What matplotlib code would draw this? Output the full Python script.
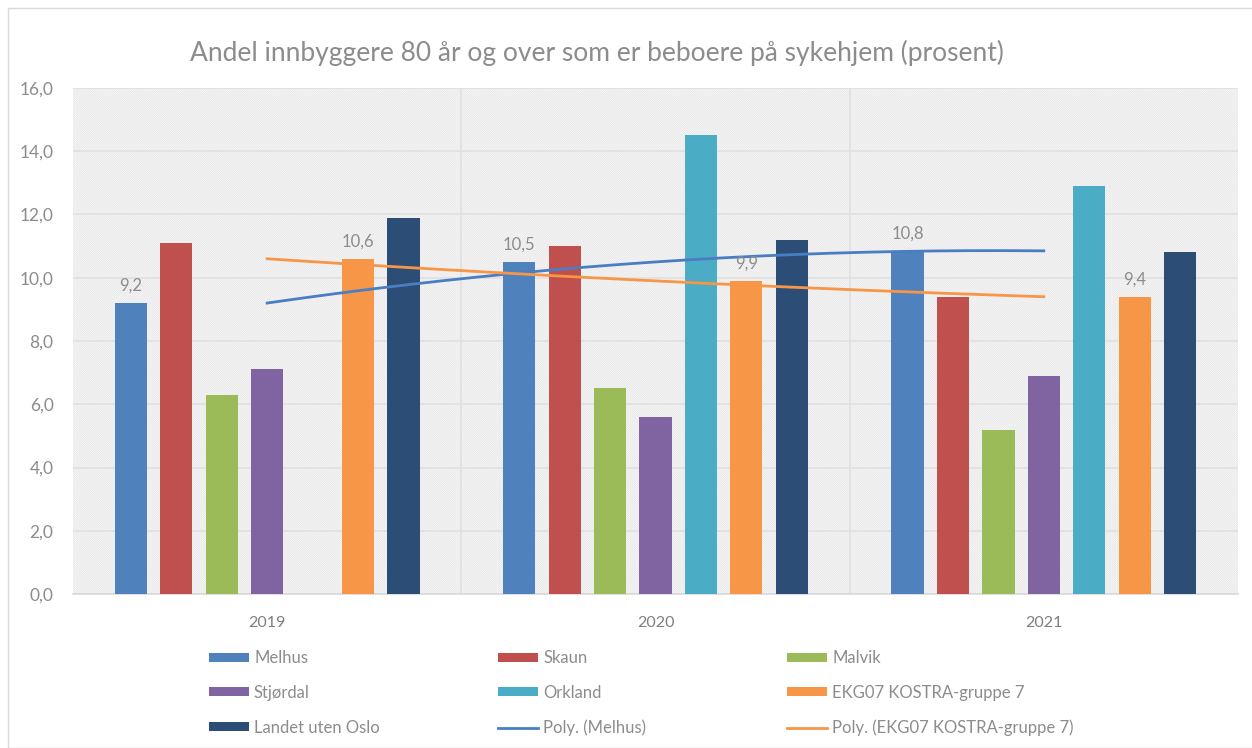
import numpy as np
import matplotlib.pyplot as plt
from matplotlib.patches import Rectangle, Patch
from matplotlib.lines import Line2D

plt.rcParams['font.family'] = ['Lato', 'DejaVu Sans']

years = ['2019', '2020', '2021']
series = ['Melhus', 'Skaun', 'Malvik', 'Stjørdal', 'Orkland',
          'EKG07 KOSTRA-gruppe 7', 'Landet uten Oslo']
values = {
    'Melhus': [9.2, 10.5, 10.85],
    'Skaun': [11.1, 11.0, 9.4],
    'Malvik': [6.3, 6.5, 5.2],
    'Stjørdal': [7.1, 5.6, 6.9],
    'Orkland': [np.nan, 14.5, 12.9],
    'EKG07 KOSTRA-gruppe 7': [10.6, 9.9, 9.4],
    'Landet uten Oslo': [11.9, 11.2, 10.8],
}
labels_melhus = ['9,2', '10,5', '10,8']
labels_ekg = ['10,6', '9,9', '9,4']
colors = ['#4F81BD', '#C0504D', '#9BBB59', '#8064A2', '#4BACC6', '#F79646', '#2C4D75']

txt = '#8c8c8c'
plt.rcParams['hatch.color'] = '#e6e6e6'
plt.rcParams['hatch.linewidth'] = 0.6

fig = plt.figure(figsize=(12.52, 7.48), dpi=100)
fig.patches.append(Rectangle((8 / 1252, 0), 1.0, 1 - 8 / 748, transform=fig.transFigure,
                             fill=False, edgecolor='#d9d9d9', lw=1))
ax = fig.add_axes([73 / 1252, 1 - 594 / 748, 1165 / 1252, 506 / 748])
ax.patch.set_facecolor('white')
ax.patch.set_hatch('\\' * 18)
ax.patch.set_edgecolor('#e6e6e6')

x = np.arange(len(years))
slot = 0.117
width = 0.083
for i, (name, c) in enumerate(zip(series, colors)):
    off = (i - 3) * slot
    ax.bar(x + off, values[name], width=width, color=c, zorder=3)

# data labels
for j in range(3):
    ax.text(x[j] - 3 * slot, values['Melhus'][j] + 0.3, labels_melhus[j],
            ha='center', va='bottom', color=txt, fontsize=12, zorder=5)
    ax.text(x[j] + 2 * slot, values['EKG07 KOSTRA-gruppe 7'][j] + 0.3, labels_ekg[j],
            ha='center', va='bottom', color=txt, fontsize=12, zorder=5)

# polynomial trendlines (order 2)
xs = np.linspace(0, 2, 200)
pm = np.polyfit(x, values['Melhus'], 2)
pe = np.polyfit(x, values['EKG07 KOSTRA-gruppe 7'], 2)
ax.plot(xs, np.polyval(pm, xs), color='#4A7EC2', lw=2, zorder=4)
ax.plot(xs, np.polyval(pe, xs), color='#F79646', lw=2, zorder=4)

ax.set_xlim(-0.5, 2.5)
ax.set_ylim(0, 16)
ax.set_yticks(np.arange(0, 17, 2))
ax.set_yticklabels([f'{v:.1f}'.replace('.', ',') for v in np.arange(0, 17, 2)])
ax.set_xticks(x)
ax.set_xticklabels(years)
ax.tick_params(axis='y', length=0, pad=14, labelsize=12.5, labelcolor=txt)
ax.tick_params(axis='x', length=0, pad=16, labelsize=11.5, labelcolor='#7f7f7f')
ax.grid(axis='y', color='#e0e0e0', lw=1.2, zorder=1)
for b in [0.5, 1.5]:
    ax.axvline(b, color='#e0e0e0', lw=1.2, zorder=1)
for s in ['top', 'right', 'left']:
    ax.spines[s].set_visible(False)
ax.spines['bottom'].set_color('#d9d9d9')
ax.spines['bottom'].set_linewidth(1.2)
ax.set_axisbelow(True)

fig.text(0.477, 1 - 53 / 748, 'Andel innbyggere 80 år og over som er beboere på sykehjem (prosent)',
         ha='center', va='center', fontsize=19, color='#8c8c8c')

# legend in three columns
def ph(c):
    return Patch(facecolor=c, edgecolor='none')

cols = [
    [(ph(colors[0]), 'Melhus'), (ph(colors[3]), 'Stjørdal'), (ph(colors[6]), 'Landet uten Oslo')],
    [(ph(colors[1]), 'Skaun'), (ph(colors[4]), 'Orkland'),
     (Line2D([], [], color='#4A7EC2', lw=2), 'Poly. (Melhus)')],
    [(ph(colors[2]), 'Malvik'), (ph(colors[5]), 'EKG07 KOSTRA-gruppe 7'),
     (Line2D([], [], color='#F79646', lw=2), 'Poly. (EKG07 KOSTRA-gruppe 7)')],
]
for k, (xpos, entries) in enumerate(zip([209, 498, 787], cols)):
    leg = fig.legend([e[0] for e in entries], [e[1] for e in entries],
                     loc='upper left', bbox_to_anchor=(xpos / 1252, 1 - 650 / 748),
                     frameon=False, fontsize=12, labelcolor=txt, handlelength=2.4,
                     handleheight=0.45, handletextpad=0.3, labelspacing=1.13,
                     borderpad=0, borderaxespad=0)

fig.savefig('out.png', dpi=100)
